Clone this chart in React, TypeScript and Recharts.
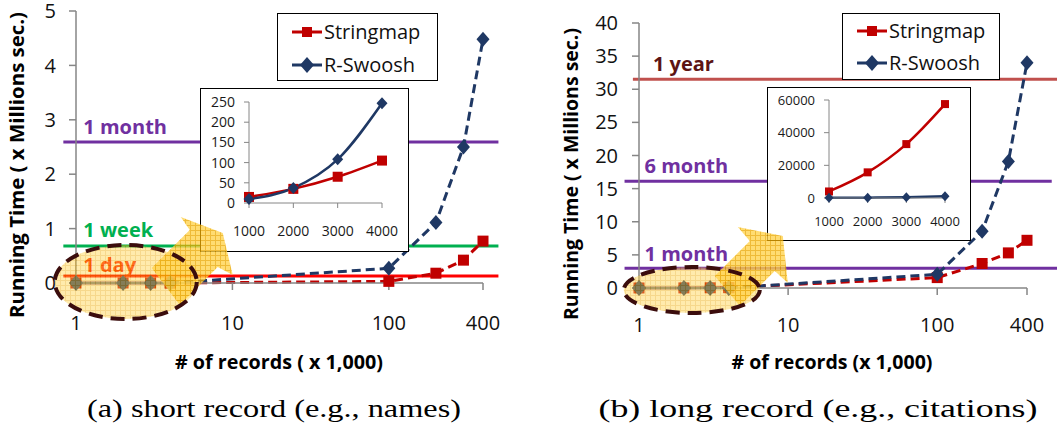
import React from 'react'
import { LineChart, Line, XAxis, YAxis, ReferenceLine, Legend } from 'recharts'

// number of records, in thousands
const recordsK = [1, 2, 3, 4, 100, 200, 300, 400]
const xTicks = [1, 10, 100, 400]

// (a) short records: running time in millions of seconds
const shortStringmap = [0.00002, 0.00004, 0.00007, 0.0001, 0.03, 0.18, 0.42, 0.77]
const shortRSwoosh = [0.00001, 0.00004, 0.0001, 0.00025, 0.27, 1.11, 2.5, 4.48]
const shortYTicks = [0, 1, 2, 3, 4, 5]

// (b) long records
const longStringmap = [0.004, 0.016, 0.033, 0.058, 1.57, 3.7, 5.3, 7.2]
const longRSwoosh = [0.0001, 0.0002, 0.0005, 0.001, 2.07, 8.56, 19.1, 34.0]
const longYTicks = [0, 5, 10, 15, 20, 25, 30, 35, 40]

// insets: seconds for the first few thousand records
const insetRecords = [1000, 2000, 3000, 4000]
const insetShortStringmap = [15, 35, 65, 105]
const insetShortRSwoosh = [10, 37, 108, 247]
const insetShortTicks = [0, 50, 100, 150, 200, 250]
const insetLongStringmap = [4000, 15700, 33000, 57500]
const insetLongRSwoosh = [100, 200, 500, 1000]
const insetLongTicks = [0, 20000, 40000, 60000]

// time limits, millions of seconds
const shortLimitNames = ['1 month', '1 week', '1 day']
const shortLimitValues = [2.59, 0.68, 0.13]
const longLimitNames = ['1 year', '6 month', '1 month']
const longLimitValues = [31.5, 16.1, 3.0]

const FONT = '"Open Sans", "Noto Sans", sans-serif'
const SERIF = '"Liberation Serif", "DejaVu Serif", serif'
const RED = '#C00000'
const NAVY = '#1F3864'
const AXIS = '#868686'
const PURPLE = '#7030A0'

const shortLimitStyle = [
  { line: PURPLE, text: PURPLE, from: 0.83, to: 502, dy: -8 },
  { line: '#00B050', text: '#00B050', from: 0.83, to: 502, dy: -9 },
  { line: '#FF0000', text: '#FF1A00', from: 0.83, to: 502, dy: -4 },
]
const longLimitStyle = [
  { line: '#C0504D', text: '#5C1414', from: 0.91, to: 640, dy: -8 },
  { line: PURPLE, text: PURPLE, from: 0.8, to: 586, dy: -8 },
  { line: PURPLE, text: PURPLE, from: 0.8, to: 640, dy: -7 },
]

const buildRows = (sm: number[], rs: number[]) =>
  recordsK.map((x, i) => ({
    x,
    sm: x <= 4 ? sm[i] : null,
    rs: x <= 4 ? rs[i] : null,
    smDash: x >= 4 ? sm[i] : null,
    rsDash: x >= 4 ? rs[i] : null,
  }))

const squareDot = (color: string, size: number) => (p: any) => {
  if (!Number.isFinite(p.cx) || !Number.isFinite(p.cy)) return <g key={p.index} />
  return <rect key={p.index} x={p.cx - size / 2} y={p.cy - size / 2} width={size} height={size} fill={color} />
}

const diamondDot = (color: string, w: number, h: number) => (p: any) => {
  if (!Number.isFinite(p.cx) || !Number.isFinite(p.cy)) return <g key={p.index} />
  const { cx, cy } = p
  return (
    <polygon
      key={p.index}
      points={`${cx},${cy - h / 2} ${cx + w / 2},${cy} ${cx},${cy + h / 2} ${cx - w / 2},${cy}`}
      fill={color}
    />
  )
}

const limitShape = (label: string, color: string, textColor: string, dy: number) => (p: any) => (
  <g>
    <line x1={p.x1} y1={p.y1} x2={p.x2} y2={p.y2} stroke={color} strokeWidth={3} />
    <text x={p.x1 + 20} y={p.y1 + dy} fill={textColor} fontFamily={FONT} fontSize={20} fontWeight={700}>
      {label}
    </text>
  </g>
)

function LegendBox({ payload, box }: any) {
  const items = (payload ?? [])
    .filter((e: any) => e.type !== 'none')
    .sort((a: any, b: any) => (a.dataKey === 'smDash' ? -1 : b.dataKey === 'smDash' ? 1 : 0))
  return (
    <div
      style={{
        width: box.width,
        height: box.height,
        boxSizing: 'border-box',
        border: '1px solid #000',
        background: '#fff',
        paddingTop: 1,
      }}
    >
      {items.map((e: any) => (
        <div key={e.value} style={{ display: 'flex', alignItems: 'center', height: box.row }}>
          <svg width={45} height={18} style={{ flex: 'none' }}>
            <line x1={14} y1={9} x2={44} y2={9} stroke={e.color} strokeWidth={3} />
            {e.dataKey === 'smDash' ? (
              <rect x={24} y={4} width={10} height={10} fill={e.color} />
            ) : (
              <polygon points="29,1 36,9 29,17 22,9" fill={e.color} />
            )}
          </svg>
          <span style={{ fontFamily: FONT, fontSize: 20, lineHeight: '24px', color: '#111', marginLeft: 1 }}>
            {e.value}
          </span>
        </div>
      ))}
    </div>
  )
}

function Highlight({ cx, cy, rx, ry, dy, arrow, id }: any) {
  if (!Number.isFinite(cx) || !Number.isFinite(cy)) return <g />
  const y0 = cy + dy
  const pts = arrow.map(([x, y]: number[]) => `${cx + x},${y0 + y}`).join(' ')
  return (
    <g>
      <defs>
        <pattern id={id} width={5} height={5} patternUnits="userSpaceOnUse">
          <rect width={5} height={5} fill="#FFD24A" />
          <path d="M0 0.5H5M0.5 0V5" stroke="#EBA800" strokeWidth={1} />
        </pattern>
      </defs>
      <polygon points={pts} fill={`url(#${id})`} fillOpacity={0.78} />
      <ellipse
        cx={cx}
        cy={y0}
        rx={rx}
        ry={ry}
        fill={`url(#${id})`}
        fillOpacity={0.45}
        stroke="#3B0D0D"
        strokeWidth={4}
        strokeDasharray="14 8"
      />
    </g>
  )
}

function Inset({ cfg }: any) {
  const rows = insetRecords.map((n, i) => ({ n, sm: cfg.sm[i], rs: cfg.rs[i] }))
  const tick = { fontSize: cfg.fontSize, fill: '#1a1a1a', fontFamily: FONT }
  return (
    <div
      style={{
        position: 'absolute',
        left: cfg.x,
        top: cfg.y,
        width: cfg.w,
        height: cfg.h,
        background: '#fff',
        outline: '1.5px solid #000',
        outlineOffset: -1.5,
      }}
    >
      <LineChart width={cfg.w} height={cfg.h} data={rows} margin={cfg.margin}>
        <XAxis
          dataKey="n"
          type="category"
          scale="point"
          padding={{ left: 0, right: 0 }}
          interval={0}
          height={30}
          tickSize={5}
          tickMargin={cfg.xTickMargin}
          stroke={AXIS}
          tick={tick}
        />
        <YAxis
          type="number"
          domain={[0, cfg.ticks[cfg.ticks.length - 1]]}
          ticks={cfg.ticks}
          interval={0}
          width={cfg.yWidth}
          tickSize={5}
          tickMargin={9}
          stroke={AXIS}
          tick={tick}
        />
        <Line
          dataKey="sm"
          type="monotone"
          stroke={RED}
          strokeWidth={2.5}
          dot={squareDot(RED, cfg.square)}
          isAnimationActive={false}
        />
        <Line
          dataKey="rs"
          type="monotone"
          stroke={NAVY}
          strokeWidth={2.5}
          dot={diamondDot(NAVY, cfg.diamond, cfg.diamond + 1)}
          isAnimationActive={false}
        />
      </LineChart>
    </div>
  )
}

function Panel({ cfg }: any) {
  const yMax = cfg.yTicks[cfg.yTicks.length - 1]
  const tick = { fontSize: 20, fill: '#111', fontFamily: FONT }
  const xAxis = (visible: boolean) => (
    <XAxis
      dataKey="x"
      type="number"
      scale="log"
      domain={[1, 400]}
      ticks={xTicks}
      interval={0}
      height={40}
      tickSize={7}
      tickMargin={cfg.xTickMargin}
      stroke={AXIS}
      strokeWidth={1.5}
      tick={visible ? tick : false}
      axisLine={visible}
      tickLine={visible}
    />
  )
  const yAxis = (visible: boolean) => (
    <YAxis
      type="number"
      domain={[0, yMax]}
      ticks={cfg.yTicks}
      interval={0}
      width={40}
      tickSize={7}
      tickMargin={cfg.yTickMargin}
      stroke={AXIS}
      strokeWidth={1.5}
      tick={visible ? tick : false}
      axisLine={visible}
      tickLine={visible}
    />
  )
  const hl = cfg.highlight
  return (
    <div style={{ position: 'absolute', left: cfg.left, top: 0, width: cfg.width, height: 340 }}>
      <div style={{ position: 'absolute', left: 0, top: 0 }}>
        <LineChart width={cfg.width} height={340} data={cfg.rows} margin={cfg.margin}>
          {xAxis(true)}
          {yAxis(true)}
          {cfg.limitNames.map((name: string, i: number) => {
            const s = cfg.limitStyle[i]
            const v = cfg.limitValues[i]
            return (
              <ReferenceLine
                key={name + i}
                segment={[
                  { x: s.from, y: v },
                  { x: s.to, y: v },
                ]}
                ifOverflow="visible"
                stroke={s.line}
                strokeWidth={3}
                shape={limitShape(name, s.line, s.text, s.dy)}
              />
            )
          })}
          <Line
            dataKey="sm"
            legendType="none"
            stroke={RED}
            strokeWidth={2.5}
            dot={squareDot(RED, 11)}
            isAnimationActive={false}
          />
          <Line
            dataKey="rs"
            legendType="none"
            stroke={NAVY}
            strokeWidth={2.5}
            dot={diamondDot(NAVY, 14, 16)}
            isAnimationActive={false}
          />
          <Line
            dataKey="smDash"
            name="Stringmap"
            stroke={RED}
            strokeWidth={3}
            strokeDasharray="9 5"
            dot={squareDot(RED, 11)}
            isAnimationActive={false}
          />
          <Line
            dataKey="rsDash"
            name="R-Swoosh"
            stroke={NAVY}
            strokeWidth={3}
            strokeDasharray="9 5"
            dot={diamondDot(NAVY, 13, 15)}
            isAnimationActive={false}
          />
          <Legend
            layout="vertical"
            align="center"
            verticalAlign="middle"
            wrapperStyle={{
              left: cfg.legend.left,
              top: cfg.legend.top,
              width: cfg.legend.width,
              height: cfg.legend.height,
            }}
            content={(p: any) => <LegendBox {...p} box={cfg.legend} />}
          />
        </LineChart>
      </div>
      <Inset cfg={cfg.inset} />
      <div style={{ position: 'absolute', left: 0, top: 0 }}>
        <LineChart width={cfg.width} height={340} data={[{ x: hl.x, y: 0 }]} margin={cfg.margin}>
          {xAxis(false)}
          {yAxis(false)}
          <Line
            dataKey="y"
            legendType="none"
            stroke="none"
            isAnimationActive={false}
            dot={(p: any) => (
              <Highlight
                key="hl"
                cx={p.cx}
                cy={p.cy}
                rx={hl.rx}
                ry={hl.ry}
                dy={hl.dy}
                arrow={hl.arrow}
                id={hl.id}
              />
            )}
          />
        </LineChart>
      </div>
    </div>
  )
}

const panelA = {
  left: 0,
  width: 530,
  rows: buildRows(shortStringmap, shortRSwoosh),
  yTicks: shortYTicks,
  limitNames: shortLimitNames,
  limitValues: shortLimitValues,
  limitStyle: shortLimitStyle,
  margin: { top: 11, right: 47, bottom: 17, left: 36 },
  xTickMargin: 26,
  yTickMargin: 13,
  legend: { left: 277, top: 13, width: 161, height: 68, row: 33 },
  inset: {
    x: 200,
    y: 88,
    w: 209,
    h: 164,
    margin: { top: 14, right: 27, bottom: 19, left: 0 },
    yWidth: 49,
    fontSize: 14,
    xTickMargin: 18,
    ticks: insetShortTicks,
    sm: insetShortStringmap,
    rs: insetShortRSwoosh,
    square: 10,
    diamond: 11,
  },
  highlight: {
    x: 2.08,
    dy: -1,
    rx: 71,
    ry: 37,
    id: 'hl-a',
    arrow: [
      [26, -14],
      [64, -52],
      [55, -65],
      [97, -49],
      [107, -7],
      [92, -15],
      [54, 23],
    ],
  },
}

const panelB = {
  left: 530,
  width: 527,
  rows: buildRows(longStringmap, longRSwoosh),
  yTicks: longYTicks,
  limitNames: longLimitNames,
  limitValues: longLimitValues,
  limitStyle: longLimitStyle,
  margin: { top: 23, right: 30, bottom: 12, left: 69 },
  xTickMargin: 23,
  yTickMargin: 14,
  legend: { left: 312, top: 13, width: 158, height: 67, row: 32 },
  inset: {
    x: 237,
    y: 87,
    w: 204,
    h: 154,
    margin: { top: 13, right: 26, bottom: 13, left: 0 },
    yWidth: 62,
    fontSize: 13,
    xTickMargin: 14,
    ticks: insetLongTicks,
    sm: insetLongStringmap,
    rs: insetLongRSwoosh,
    square: 8,
    diamond: 9,
  },
  highlight: {
    x: 2.26,
    dy: 2,
    rx: 68,
    ry: 23,
    id: 'hl-b',
    arrow: [
      [23, -14],
      [58, -49],
      [46, -63],
      [91, -54],
      [96, -7],
      [83, -19],
      [48, 16],
    ],
  },
}

export default function App() {
  return (
    <div
      style={{
        position: 'absolute',
        left: 0,
        top: 0,
        width: 1057,
        height: 429,
        background: '#fff',
        overflow: 'hidden',
      }}
    >
      <svg width={1057} height={429} style={{ position: 'absolute', left: 0, top: 0 }}>
        <g fontFamily={FONT} fontWeight={700} fontSize={20} fill="#000">
          <text x={24} y={165} transform="rotate(-90 24 165)" textAnchor="middle" textLength={306} lengthAdjust="spacingAndGlyphs">
            Running Time ( x Millions sec.)
          </text>
          <text x={578} y={174} transform="rotate(-90 578 174)" textAnchor="middle" textLength={292} lengthAdjust="spacingAndGlyphs">
            Running Time ( x Millions sec.)
          </text>
          <text x={279} y={369} textAnchor="middle" textLength={208} lengthAdjust="spacingAndGlyphs">
            # of records ( x 1,000)
          </text>
          <text x={832} y={369} textAnchor="middle" textLength={201} lengthAdjust="spacingAndGlyphs">
            # of records (x 1,000)
          </text>
        </g>
        <g fontFamily={SERIF} fontSize={26} fill="#000">
          <text x={274} y={417} textAnchor="middle" textLength={374} lengthAdjust="spacingAndGlyphs">
            (a) short record (e.g., names)
          </text>
          <text x={818} y={417} textAnchor="middle" textLength={439} lengthAdjust="spacingAndGlyphs">
            (b) long record (e.g., citations)
          </text>
        </g>
      </svg>
      <Panel cfg={panelA} />
      <Panel cfg={panelB} />
    </div>
  )
}
